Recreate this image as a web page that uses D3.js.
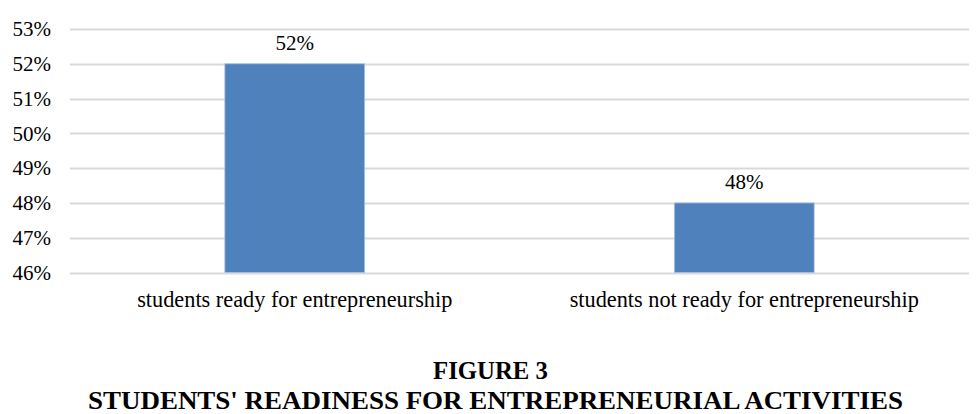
<!DOCTYPE html>
<html><head><meta charset="utf-8">
<script src="https://cdn.jsdelivr.net/npm/d3@7"></script>
<style>body{margin:0;background:#fff;}svg{display:block;} text{font-family:'Liberation Serif','Times New Roman',serif;}</style>
</head><body>
<svg id="c" width="977" height="414"></svg>
<script>
const categories = ["students ready for entrepreneurship", "students not ready for entrepreneurship"];
const values = [52, 48];
const valueLabels = ["52%", "48%"];
const yTicks = [46, 47, 48, 49, 50, 51, 52, 53];
const titleLines = ["FIGURE 3", "STUDENTS' READINESS FOR ENTREPRENEURIAL ACTIVITIES"];

const svg = d3.select("#c");
const font = "'Liberation Serif','Times New Roman',serif";
const x = d3.scaleBand().domain(categories).range([70, 969]).paddingInner(0.689).paddingOuter(0.3445);
const y = d3.scaleLinear().domain([46, 53]).range([272.5, 29]);

// gridlines
svg.append("g").selectAll("line").data(yTicks).join("line")
  .attr("x1", 70).attr("x2", 969)
  .attr("y1", d => Math.round(y(d)) + 0.5).attr("y2", d => Math.round(y(d)) + 0.5)
  .attr("stroke", "#d9d9d9").attr("stroke-width", 2);

// y axis labels
const yAxis = d3.axisLeft(y).tickValues(yTicks).tickFormat(d => d + "%").tickSize(0).tickPadding(0);
const ya = svg.append("g").attr("transform", "translate(51,0)").call(yAxis)
  .attr("font-family", null).attr("font-size", null);
ya.select(".domain").remove();
ya.selectAll("text").style("font-family", font).style("font-size", "21px").attr("fill", "#000");

// bars
svg.append("g").selectAll("rect").data(values).join("rect")
  .attr("x", (d, i) => x(categories[i]))
  .attr("width", x.bandwidth())
  .attr("y", d => y(d))
  .attr("height", d => y(46) - y(d))
  .attr("fill", "#4f81bd").attr("stroke", "#aac0dd").attr("stroke-width", 0.8);

// value labels
svg.append("g").selectAll("text").data(values).join("text")
  .attr("x", (d, i) => x(categories[i]) + x.bandwidth() / 2)
  .attr("y", d => y(d) - 14)
  .attr("text-anchor", "middle")
  .style("font-family", font).style("font-size", "21px").attr("fill", "#000")
  .text((d, i) => valueLabels[i]);

// category labels
const xAxis = d3.axisBottom(x).tickSize(0).tickPadding(0);
const xa = svg.append("g").attr("transform", "translate(0,291)").call(xAxis)
  .attr("font-family", null).attr("font-size", null);
xa.select(".domain").remove();
xa.selectAll("text").style("font-family", font).style("font-size", "22.3px").attr("fill", "#000").attr("dy", "0.71em");

// titles
svg.append("text").attr("x", 490.5).attr("y", 379).attr("text-anchor", "middle")
  .style("font-family", font).style("font-size", "25px").attr("font-weight", "bold")
  .attr("textLength", 115).attr("lengthAdjust", "spacingAndGlyphs")
  .text(titleLines[0]);
svg.append("text").attr("x", 495.5).attr("y", 409).attr("text-anchor", "middle")
  .style("font-family", font).style("font-size", "25px").attr("font-weight", "bold")
  .attr("textLength", 815).attr("lengthAdjust", "spacingAndGlyphs")
  .text(titleLines[1]);
</script>
</body></html>
